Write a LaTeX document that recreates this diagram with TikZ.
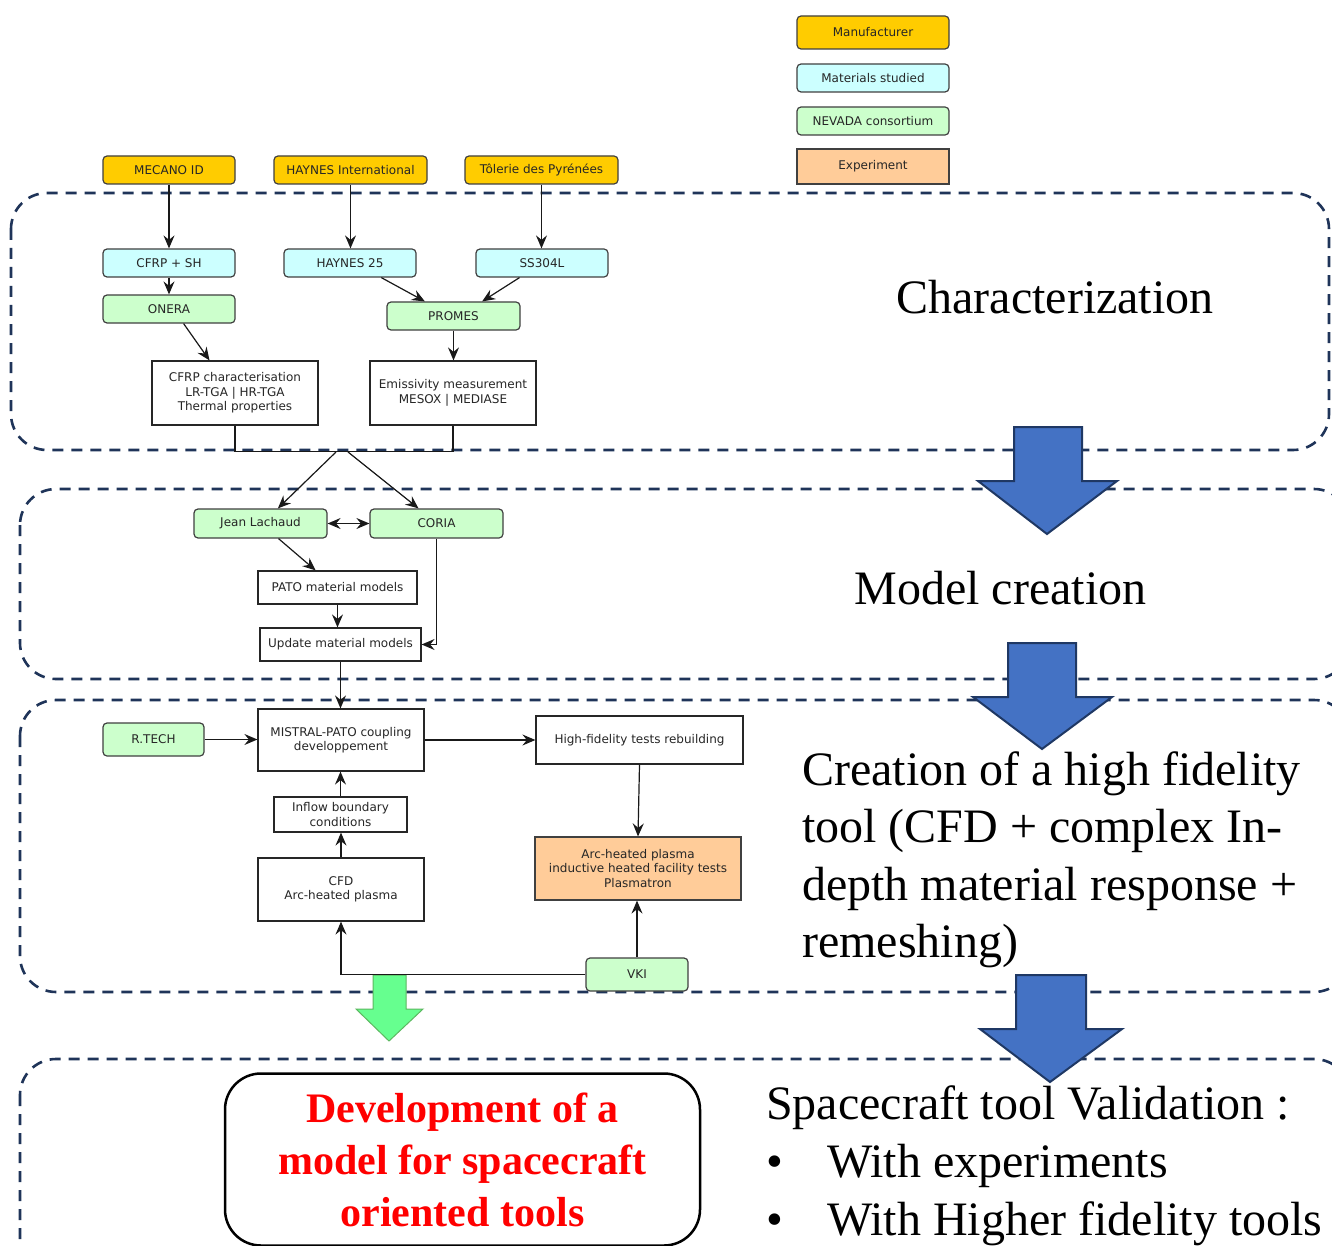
\documentclass[tikz,border=0pt]{standalone}
\usepackage{fontspec}
\setmainfont{Liberation Serif}
\newfontfamily\dvs{DejaVu Sans}
\usetikzlibrary{arrows.meta}
\definecolor{cGold}{HTML}{FFCC00}
\definecolor{cCyan}{HTML}{CCFFFF}
\definecolor{cGreen}{HTML}{CCFFCC}
\definecolor{cOrange}{HTML}{FFCC99}
\definecolor{cNavy}{HTML}{1F3459}
\definecolor{cBlue}{HTML}{4472C4}
\definecolor{cBlueEdge}{HTML}{1F3864}
\definecolor{cArrowGreen}{HTML}{66FF8F}
\definecolor{cArrowGreenEdge}{HTML}{5CB860}
\begin{document}
\begin{tikzpicture}[x=1pt,y=-1pt,
  base/.style={draw=black!75, line width=1.2pt, inner sep=0pt, text=black!85,
    font=\dvs\fontsize{12}{14.5}\selectfont, align=center},
  rbox/.style={base, rounded corners=4pt},
  manu/.style={rbox, fill=cGold},
  mat/.style={rbox, fill=cCyan},
  nev/.style={rbox, fill=cGreen},
  plainbox/.style={base, fill=white, draw=black!85},
  expe/.style={base, fill=cOrange, draw=black!75},
  wh/.style 2 args={minimum width=#1pt, minimum height=#2pt},
  conn/.style={line width=1.2pt, color=black!90, -{Stealth[length=13pt,width=11pt,inset=4.5pt]}},
  dconn/.style={line width=1.2pt, color=black!90, {Stealth[length=13pt,width=11pt,inset=4.5pt]}-{Stealth[length=13pt,width=11pt,inset=4.5pt]}},
  plainline/.style={line width=1.2pt, color=black!90},
  region/.style={draw=cNavy, line width=2.6pt, dash pattern=on 11pt off 8pt, rounded corners=36pt},
  bigarrow/.style={fill=cBlue, draw=cBlueEdge, line width=2pt, line join=miter},
  greenarrow/.style={fill=cArrowGreen, draw=cArrowGreenEdge, line width=1pt, line join=miter},
  bigtxt/.style={inner sep=0pt, font=\fontsize{48}{57.5}\selectfont, text=black},
]
\useasboundingbox (0,0) rectangle (1332,1246);
\clip (0,0) rectangle (1332,1246);
\fill[white] (0,0) rectangle (1332,1246);

% dashed regions
\draw[region] (11,193) rectangle (1329,450);
\draw[region] (20,489) rectangle (1350,679);
\draw[region] (20,700) rectangle (1350,992);
\draw[region] (20,1059) rectangle (1350,1320);

% big blue arrows
\draw[bigarrow] (1014,427) -- (1082,427) -- (1082,481) -- (1117,481) -- (1047,534) -- (978,481) -- (1014,481) -- cycle;
\draw[bigarrow] (1008,643) -- (1076,643) -- (1076,697) -- (1112,697) -- (1042,749) -- (973,697) -- (1008,697) -- cycle;
\draw[bigarrow] (1016,975) -- (1086,975) -- (1086,1029) -- (1122,1029) -- (1050,1082) -- (980,1029) -- (1016,1029) -- cycle;

% green arrow
\draw[greenarrow] (373,975) -- (406,975) -- (406,1009) -- (423,1009) -- (389,1041) -- (356,1009) -- (373,1009) -- cycle;

% legend
\node[manu, wh={152}{33}] (legman) at (873,32.5) {Manufacturer};
\node[mat, wh={152}{28}] (legmat) at (873,78) {Materials studied};
\node[nev, wh={152}{28}] (legnev) at (873,121) {NEVADA consortium};
\node[expe, wh={152}{35}] (legexp) at (873,166.5) {Experiment};

% manufacturers
\node[manu, wh={132}{28}] (mecano) at (169,170) {MECANO ID};
\node[manu, wh={153}{28}] (haynesI) at (350.5,170) {HAYNES International};
\node[manu, wh={153}{28}] (toler) at (541.5,170) {Tôlerie des Pyrénées};

% materials
\node[mat, wh={132}{28}] (cfrp) at (169,263) {CFRP + SH};
\node[mat, wh={132}{28}] (h25) at (350,263) {HAYNES 25};
\node[mat, wh={132}{28}] (ss) at (542,263) {SS304L};

\node[nev, wh={132}{28}] (onera) at (169,309) {ONERA};
\node[nev, wh={133}{28}] (promes) at (453.5,316) {PROMES};

\node[plainbox, wh={166}{64}] (cfrpc) at (235,393) {CFRP characterisation\\LR-TGA | HR-TGA\\Thermal properties};
\node[plainbox, wh={166}{64}] (emis) at (453,393) {Emissivity measurement\\MESOX | MEDIASE};

% model creation
\node[nev, wh={133}{29}] (jl) at (260.5,523.5) {Jean Lachaud};
\node[nev, wh={133}{29}] (coria) at (436.5,523.5) {CORIA};
\node[plainbox, wh={159}{33}] (pato) at (337.5,587.5) {PATO material models};
\node[plainbox, wh={161}{33}] (upd) at (340.5,644.5) {Update material models};

% high fidelity
\node[plainbox, wh={166}{62}] (mistral) at (341,740) {MISTRAL-PATO coupling\\developpement};
\node[nev, wh={101}{33}] (rtech) at (153.5,739.5) {R.TECH};
\node[plainbox, wh={207}{48}] (hf) at (639.5,740) {High-fidelity tests rebuilding};
\node[plainbox, wh={133}{35}] (inflow) at (340.5,814.5) {Inflow boundary\\conditions};
\node[plainbox, wh={166}{63}] (cfd) at (341,889.5) {CFD\\Arc-heated plasma};
\node[expe, wh={206}{63}] (arc) at (638,868.5) {Arc-heated plasma\\inductive heated facility tests\\Plasmatron};
\node[nev, wh={102}{33}] (vki) at (637,974.5) {VKI};

% connectors
\draw[conn] (mecano.south) -- (mecano.south |- cfrp.north);
\draw[conn] (haynesI.south) -- (haynesI.south |- h25.north);
\draw[conn] (toler.south) -- (toler.south |- ss.north);
\draw[conn] (cfrp.south) -- (cfrp.south |- onera.north);
\draw[conn] (h25.-25) -- (promes.153);
\draw[conn] (ss.-147) -- (promes.27);
\draw[conn] (onera.-45) -- (cfrpc.128);
\draw[conn] (promes.south) -- (promes.south |- emis.north);
\draw[plainline] (cfrpc.south) -- ++(0,26) -| (emis.south);
\coordinate (s1) at (336,452);
\coordinate (s2) at (348,452);
\draw[conn] (s1) -- (jl.41);
\draw[conn] (s2) -- (coria.140);
\draw[dconn] (jl.east) -- (coria.west);
\draw[conn] (jl.-40) -- (pato.142);
\draw[conn] (pato.south) -- (pato.south |- upd.north);
\draw[conn] (coria.south) |- (upd.east);
\draw[conn] (upd.south) -- (upd.south |- mistral.north);
\draw[conn] (rtech.east) -- (rtech.east -| mistral.west);
\draw[conn] (mistral.east) -- (mistral.east -| hf.west);
\draw[conn] (hf.south) -- (arc.north);
\draw[conn] (inflow.north) -- (inflow.north |- mistral.south);
\draw[conn] (cfd.north) -- (cfd.north |- inflow.south);
\draw[conn] (vki.north) -- (vki.north |- arc.south);
\draw[conn] (vki.west) -| (cfd.south);

% big texts
\node[bigtxt, anchor=base] (tchar) at (1055,313) {Characterization};
\node[bigtxt, anchor=base] (tmodel) at (1000.5,604) {Model creation};
\node[bigtxt, anchor=base west] (thf1) at (802,785) {Creation of a high fidelity};
\node[bigtxt, anchor=base west] (thf2) at (802,842) {tool (CFD + complex In-};
\node[bigtxt, anchor=base west] (thf3) at (802,900) {depth material response +};
\node[bigtxt, anchor=base west] (thf4) at (802,957) {remeshing)};
\node[bigtxt, anchor=base west] (tval) at (766,1119) {Spacecraft tool Validation :};
\node[bigtxt, anchor=base west] (tb1) at (766,1177) {\textbullet};
\node[bigtxt, anchor=base west] (tv1) at (827,1177) {With experiments};
\node[bigtxt, anchor=base west] (tb2) at (766,1235) {\textbullet};
\node[bigtxt, anchor=base west] (tv2) at (827,1235) {With Higher fidelity tools};

% development box
\node[draw=black, line width=2.5pt, rounded corners=36pt, fill=white,
  minimum width=475pt, minimum height=172pt, inner sep=0pt, align=center,
  text=red, font=\bfseries\fontsize{42}{52}\selectfont] (devbox) at (462.5,1159.5)
  {Development of a\\model for spacecraft\\oriented tools};
\end{tikzpicture}
\end{document}
